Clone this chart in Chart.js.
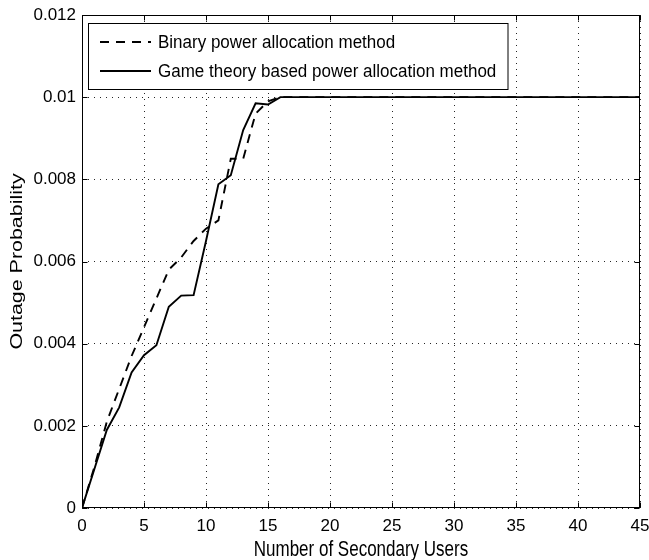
<!DOCTYPE html>
<html>
<head>
<meta charset="utf-8">
<script src="https://cdn.jsdelivr.net/npm/chart.js@4.4.0/dist/chart.umd.min.js"></script>
<style>
  body { margin: 0; background: #fff; }
  #wrap { width: 649px; height: 560px; }
</style>
</head>
<body>
<div id="wrap"><canvas id="outageChart"></canvas></div>
<script>
// Data
const users = [0, 1, 2, 3, 4, 5, 6, 7, 8, 9, 10, 11, 12, 13, 14, 15, 16, 17, 18, 19, 20,
    21, 22, 23, 24, 25, 26, 27, 28, 29, 30, 31, 32, 33, 34, 35, 36, 37, 38, 39, 40,
    41, 42, 43, 44, 45];
const binaryPower = [0, 0.0010, 0.0021, 0.0029, 0.0037, 0.0044, 0.0051, 0.0058, 0.0061, 0.0065, 0.0068,
    0.0070, 0.0085, 0.0085, 0.0096, 0.0099, 0.0100, 0.0100, 0.0100, 0.0100, 0.0100,
    0.0100, 0.0100, 0.0100, 0.0100, 0.0100, 0.0100, 0.0100, 0.0100, 0.0100, 0.0100,
    0.0100, 0.0100, 0.0100, 0.0100, 0.0100, 0.0100, 0.0100, 0.0100, 0.0100, 0.0100,
    0.0100, 0.0100, 0.0100, 0.0100, 0.0100];
const gameTheory = [0, 0.00095, 0.0019, 0.00245, 0.0033, 0.00372, 0.00396, 0.0049, 0.00517, 0.00518, 0.0065,
    0.00788, 0.0081, 0.0092, 0.00985, 0.00982, 0.0100, 0.0100, 0.0100, 0.0100, 0.0100,
    0.0100, 0.0100, 0.0100, 0.0100, 0.0100, 0.0100, 0.0100, 0.0100, 0.0100, 0.0100,
    0.0100, 0.0100, 0.0100, 0.0100, 0.0100, 0.0100, 0.0100, 0.0100, 0.0100, 0.0100,
    0.0100, 0.0100, 0.0100, 0.0100, 0.0100];
const seriesNames = ['Binary power allocation method', 'Game theory based power allocation method'];
const xTicks = [0, 5, 10, 15, 20, 25, 30, 35, 40, 45];
const yTicks = [0, 0.002, 0.004, 0.006, 0.008, 0.01, 0.012];
const xTitle = 'Number of Secondary Users';
const yTitle = 'Outage Probability';

const FONT = '"Liberation Sans", Arial, Helvetica, sans-serif';
const DASH = [9, 7];

function toPoints(ys) {
    return users.map((u, i) => ({ x: u, y: ys[i] }));
}

// box, inward ticks, legend and axis titles (matlab look)
const frame = {
    id: 'frame',
    afterDraw(chart) {
        const { ctx, chartArea: a, scales: { x, y } } = chart;
        const L = Math.round(a.left) + 0.5, R = Math.round(a.right) - 0.5;
        const T = Math.round(a.top) + 0.5, B = Math.round(a.bottom) - 0.5;
        ctx.save();
        ctx.strokeStyle = '#000';
        ctx.lineWidth = 1;
        ctx.setLineDash([]);
        ctx.strokeRect(L, T, R - L, B - T);

        ctx.beginPath();
        xTicks.forEach(v => {
            const px = Math.round(x.getPixelForValue(v)) + 0.5;
            ctx.moveTo(px, B); ctx.lineTo(px, B - 5);
            ctx.moveTo(px, T); ctx.lineTo(px, T + 5);
        });
        yTicks.forEach(v => {
            const py = Math.round(y.getPixelForValue(v)) + 0.5;
            ctx.moveTo(L, py); ctx.lineTo(L + 5, py);
            ctx.moveTo(R, py); ctx.lineTo(R - 5, py);
        });
        ctx.stroke();

        // legend
        const lx = 88.5, ly = 23.5, lw = 419.5, lh = 66;
        ctx.fillStyle = '#fff';
        ctx.fillRect(lx, ly, lw, lh);
        ctx.strokeRect(lx, ly, lw, lh);
        const rows = [42, 71];
        chart.data.datasets.forEach((ds, i) => {
            ctx.beginPath();
            ctx.lineWidth = ds.borderWidth;
            ctx.setLineDash(ds.borderDash || []);
            ctx.moveTo(100, rows[i]);
            ctx.lineTo(151, rows[i]);
            ctx.stroke();
            ctx.setLineDash([]);
            ctx.fillStyle = '#000';
            ctx.font = '17px ' + FONT;
            ctx.textAlign = 'left';
            ctx.textBaseline = 'middle';
            ctx.save();
            ctx.translate(158, rows[i] + 0.5);
            ctx.scale(1, 1.1);
            ctx.fillText(ds.label, 0, 0);
            ctx.restore();
        });

        // axis titles
        ctx.fillStyle = '#000';
        ctx.font = '17px ' + FONT;
        ctx.textAlign = 'center';
        ctx.textBaseline = 'middle';
        ctx.save();
        ctx.translate((a.left + a.right) / 2, 550);
        ctx.scale(1, 1.3);
        ctx.fillText(xTitle, 0, 0);
        ctx.restore();
        ctx.save();
        ctx.translate(17.5, (a.top + a.bottom) / 2);
        ctx.rotate(-Math.PI / 2);
        ctx.scale(1.26, 1);
        ctx.fillText(yTitle, 0, 0);
        ctx.restore();
        ctx.restore();
    }
};

const outageChart = new Chart(document.getElementById('outageChart'), {
    type: 'line',
    data: {
        datasets: [{
            label: seriesNames[0],
            data: toPoints(binaryPower),
            borderColor: '#000',
            borderWidth: 1.9,
            borderDash: DASH,
            pointRadius: 0,
            tension: 0,
            fill: false
        }, {
            label: seriesNames[1],
            data: toPoints(gameTheory),
            borderColor: '#000',
            borderWidth: 1.9,
            pointRadius: 0,
            tension: 0,
            fill: false
        }]
    },
    options: {
        responsive: true,
        maintainAspectRatio: false,
        animation: false,
        layout: { padding: { left: 0, right: 9, top: 15, bottom: 0 } },
        plugins: {
            legend: { display: false },
            tooltip: { enabled: false }
        },
        scales: {
            x: {
                type: 'linear',
                min: 0,
                max: 45,
                afterBuildTicks: s => { s.ticks = xTicks.map(v => ({ value: v })); },
                afterFit: s => { s.height = 52; s.paddingRight = 0; s.paddingLeft = 0; },
                grid: { color: 'rgba(0,0,0,0.85)', lineWidth: 1, drawTicks: false },
                border: { display: false, dash: [1, 5] },
                ticks: {
                    color: '#000',
                    padding: 8,
                    maxRotation: 0,
                    font: { family: FONT, size: 17 }
                }
            },
            y: {
                type: 'linear',
                min: 0,
                max: 0.012,
                afterBuildTicks: s => { s.ticks = yTicks.map(v => ({ value: v })); },
                afterFit: s => { s.width = 82; s.paddingTop = 0; s.paddingBottom = 0; },
                grid: { color: 'rgba(0,0,0,0.85)', lineWidth: 1, drawTicks: false },
                border: { display: false, dash: [1, 5] },
                ticks: {
                    color: '#000',
                    padding: 6,
                    font: { family: FONT, size: 17 },
                    callback: v => String(+Number(v).toFixed(4))
                }
            }
        }
    },
    plugins: [frame]
});
</script>
</body>
</html>
